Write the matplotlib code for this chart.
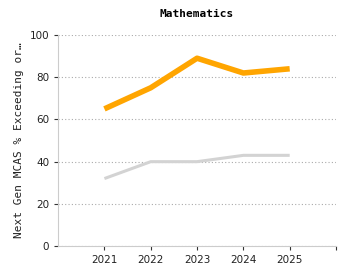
import matplotlib
matplotlib.use("Agg")
import matplotlib.pyplot as plt

years = ["2021", "2022", "2023", "2024", "2025"]
school = [65, 75, 89, 82, 84]
state = [32, 40, 40, 43, 43]
yticks = [0, 20, 40, 60, 80, 100]

fig = plt.figure(figsize=(3.5, 2.8), dpi=100)
ax = fig.add_axes([0.166, 0.121, 0.794, 0.754])
x = list(range(1, len(years) + 1))
ax.plot(x, state, color="#d3d3d3", lw=2.2, solid_capstyle="butt", zorder=2)
ax.plot(x, school, color="#ffa500", lw=4, solid_capstyle="butt", zorder=3)
ax.set_xlim(0, 6)
ax.set_ylim(0, 100)
ax.set_xticks(x + [6])
ax.set_xticklabels(years + [""])
ax.set_yticks(yticks)
ax.tick_params(axis="both", labelsize=7.5, length=3, width=0.8, color="#333333", labelcolor="#222222")
ax.grid(axis="y", linestyle=(0, (1, 2)), color="#aaaaaa", lw=0.8)
for s in ["top", "right"]:
    ax.spines[s].set_visible(False)
for s in ["left", "bottom"]:
    ax.spines[s].set_color("#cccccc")
ax.set_ylabel("Next Gen MCAS % Exceeding or\u2026", fontsize=8, color="#222222",
              family="DejaVu Sans Mono", labelpad=4)
ax.set_title("Mathematics", fontsize=8, fontweight="bold", pad=13, family="DejaVu Sans Mono")
fig.savefig("out.png", dpi=100)
